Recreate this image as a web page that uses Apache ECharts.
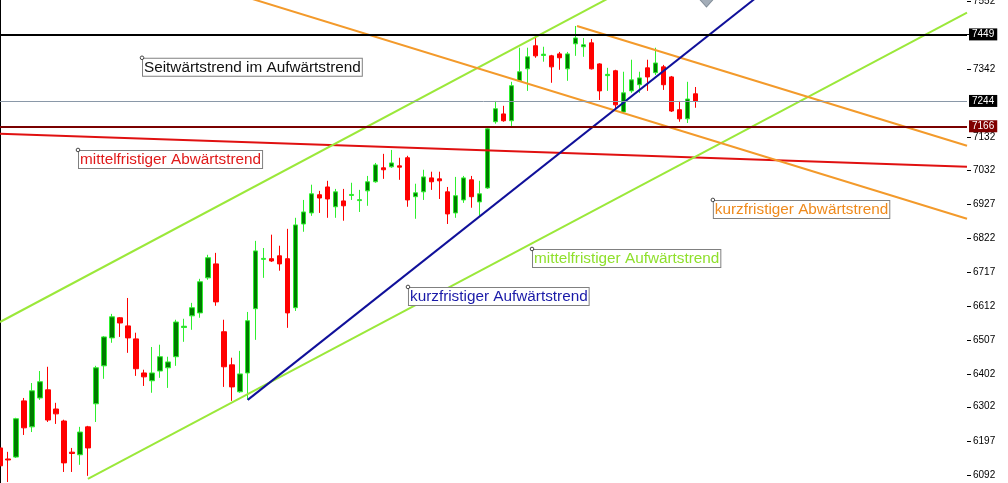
<!DOCTYPE html>
<html><head><meta charset="utf-8">
<script src="https://cdn.jsdelivr.net/npm/echarts@6/dist/echarts.min.js"></script>
<style>html,body{margin:0;padding:0;background:#fff;}#c{width:1008px;height:483px;}</style>
</head><body><div id="c"></div>
<script>
// ---- data ----
const slotCount = 122; // bar slots across the chart (88 bars + empty future space)
// [open, close, low, high]
const candles = [
[6175,6120,6086,6218],[6141,6138,6070,6163],[6147,6265,6144,6268],[6320,6237,6215,6329],
[6240,6351,6224,6375],[6329,6379,6323,6412],[6354,6261,6255,6425],[6295,6280,6249,6314],
[6258,6129,6101,6262],[6162,6158,6101,6175],[6154,6224,6123,6240],[6240,6175,6089,6243],
[6311,6422,6255,6428],[6428,6517,6388,6520],[6514,6579,6499,6588],[6576,6560,6517,6578],
[6551,6514,6468,6637],[6511,6419,6397,6530],[6406,6394,6366,6416],[6382,6406,6345,6486],
[6412,6456,6391,6493],[6422,6440,6360,6456],[6456,6563,6428,6570],[6546,6550,6502,6573],
[6582,6607,6539,6622],[6591,6687,6576,6696],[6699,6761,6693,6770],[6742,6625,6613,6776],
[6533,6425,6363,6570],[6431,6363,6320,6453],[6348,6403,6345,6474],[6406,6567,6323,6594],
[6604,6782,6508,6813],[6756,6759,6699,6791],[6758,6751,6748,6832],[6767,6742,6721,6798],
[6758,6591,6545,6850],[6607,6862,6597,6884],[6865,6902,6841,6939],[6899,6958,6890,6986],
[6955,6945,6899,6967],[6979,6942,6884,6998],[6918,6964,6884,6973],[6936,6921,6875,6973],
[6953,6956,6939,6992],[6937,6940,6902,6970],[6967,6995,6921,7013],[6995,7047,6992,7053],
[7038,7032,7004,7081],[7041,7053,7038,7093],[7044,7040,7001,7069],[7069,6939,6918,7075],
[6949,6961,6881,6989],[6964,7010,6939,7032],[7007,6995,6970,7026],[7004,6998,6942,7026],
[6964,6896,6865,6979],[6899,6952,6884,7010],[6939,7007,6930,7013],[7001,6949,6915,7013],
[6933,6958,6890,6998],[6976,7158,6973,7164],[7180,7220,7174,7244],[7204,7183,7180,7229],
[7183,7291,7167,7303],[7306,7334,7303,7408],[7343,7380,7275,7408],[7414,7383,7377,7438],
[7384,7388,7365,7411],[7383,7349,7300,7386],[7389,7377,7340,7395],[7343,7389,7306,7395],
[7420,7438,7383,7475],[7411,7417,7380,7438],[7423,7343,7341,7435],[7358,7275,7247,7360],
[7322,7326,7275,7346],[7337,7232,7217,7340],[7210,7269,7207,7334],[7275,7309,7269,7371],
[7294,7315,7269,7334],[7346,7318,7275,7371],[7331,7361,7324,7408],[7349,7294,7278,7355],
[7318,7213,7210,7321],[7217,7189,7180,7244],[7189,7250,7176,7303],[7266,7244,7223,7287]
];
const yTickValues = [7552,7449,7342,7132,7032,6927,6822,6717,6612,6507,6402,6302,6197,6092];
const yMin = 6067, yMax = 7555;
// horizontal levels
const levelResistance = 7449;
const levelCurrent = 7244;
const levelSupport = 7166;
// trend lines: [[slot, value],[slot, value]]
const lineGreenUpper = [[0, 6563], [90, 7742]];
const lineGreenLower = [[11, 6080], [121, 7516]];
const lineRedDown    = [[0, 7143], [121, 7041]];
const lineOrangeUpper= [[72.2, 7475], [121, 7106]];
const lineOrangeLower= [[25, 7608], [121, 6881]];
const lineBlueUp     = [[31, 6323], [100, 7667]];
const diamondMark    = [[88.4, 7561]];
// annotations: text, anchor [slot, value], colour
const annoTexts  = ['Seitwärtstrend im Aufwärtstrend','mittelfristiger Abwärtstrend','kurzfristiger Abwärtstrend','mittelfristiger Aufwärtstrend','kurzfristiger Aufwärtstrend'];
const annoAnchors= [[17.77, 7377],[9.76, 7093],[89.2, 6939],[66.57, 6788],[51.05, 6671]];
const annoColors = ['#111111','#e01a1a','#ef8a1c','#8fe02c','#1a1aa8'];

const categories = Array.from({length: slotCount}, (_, i) => String(i));
const chart = echarts.init(document.getElementById('c'));
const FONT = '"Liberation Sans", Arial, sans-serif';

function trend(data, color, width) {
  return {type:'line', xAxisIndex:1, yAxisIndex:0, data, symbol:'none', clip:true, silent:true, z:5,
    lineStyle:{color, width}, animation:false};
}
function level(value, color, width, bg) {
  return {yAxis:value, lineStyle:{color, width, type:'solid'},
    label:{show:true, position:'end', distance:2, formatter:String(value), color:'#fff', backgroundColor:bg,
      padding:[1,3,0,3], fontSize:10, lineHeight:11, fontFamily:FONT}};
}

chart.setOption({
  animation:false,
  backgroundColor:'#ffffff',
  grid:{left:0, right:41, top:0, bottom:0, outerBoundsMode:'none', containLabel:false},
  xAxis:[
    {type:'category', data:categories, boundaryGap:false, show:false},
    {type:'value', min:0, max:slotCount-1, show:false}
  ],
  yAxis:[{type:'value', position:'right', min:yMin, max:yMax,
    splitLine:{show:false}, splitArea:{show:false}, minorTick:{show:false}, minorSplitLine:{show:false},
    axisLine:{show:true, lineStyle:{color:'#000', width:1}},
    axisTick:{show:false},
    axisLabel:{show:true, margin:6, color:'#000', fontSize:10, fontFamily:FONT,
      customValues:yTickValues, formatter:v=>String(v)}
  }],
  series:[
    {type:'candlestick', xAxisIndex:0, yAxisIndex:0, data:candles, barWidth:5, clip:true, z:2,
      itemStyle:{color:'#007a00', color0:'#ff0000', borderColor:'#2ef02e', borderColor0:'#ff0000', borderWidth:1},
      markLine:{silent:true, symbol:['none','none'], z:6, animation:false,
        data:[
          level(levelResistance, '#000000', 2, '#000000'),
          level(levelCurrent, '#8a98a8', 1, '#000000'),
          level(levelSupport, '#7a0000', 2, '#800000')
        ]}
    },
    trend(lineRedDown, '#e01010', 2),
    trend(lineGreenUpper, '#9be83a', 2),
    trend(lineGreenLower, '#9be83a', 2),
    trend(lineOrangeUpper, '#f39a2b', 2),
    trend(lineOrangeLower, '#f39a2b', 2),
    trend(lineBlueUp, '#10109a', 2),
    {type:'scatter', xAxisIndex:1, yAxisIndex:0, data:diamondMark, symbol:'diamond', symbolSize:[16,18],
      itemStyle:{color:'#8c99a6', borderColor:'#6f7c88', borderWidth:1}, clip:false, z:4, silent:true}
  ]
});

const graphics = [];
// axis tick marks on the right side of the price axis, placed through the axis scale
yTickValues.forEach(v => {
  const p = chart.convertToPixel({xAxisIndex:1, yAxisIndex:0}, [slotCount-1, v]);
  const y = Math.round(p[1]) + 0.5;
  graphics.push({type:'line', silent:true, z:50,
    shape:{x1:p[0], y1:y, x2:p[0]+4, y2:y}, style:{stroke:'#000', lineWidth:1}});
});
annoTexts.forEach((t, i) => {
  const p = chart.convertToPixel({xAxisIndex:1, yAxisIndex:0}, annoAnchors[i]);
  graphics.push({type:'text', x:p[0]+1, y:p[1]+1, z:100, silent:true,
    style:{text:t, fill:annoColors[i], font:'15.3px ' + FONT,
      align:'left', verticalAlign:'top', backgroundColor:'#ffffff', borderColor:'#808080', borderWidth:1,
      padding:[1,1,1,1]}});
  graphics.push({type:'circle', shape:{cx:p[0], cy:p[1], r:1.8}, z:101, silent:true,
    style:{fill:'#ffffff', stroke:'#444444', lineWidth:1}});
});
chart.setOption({graphic:graphics});
</script>
</body></html>
